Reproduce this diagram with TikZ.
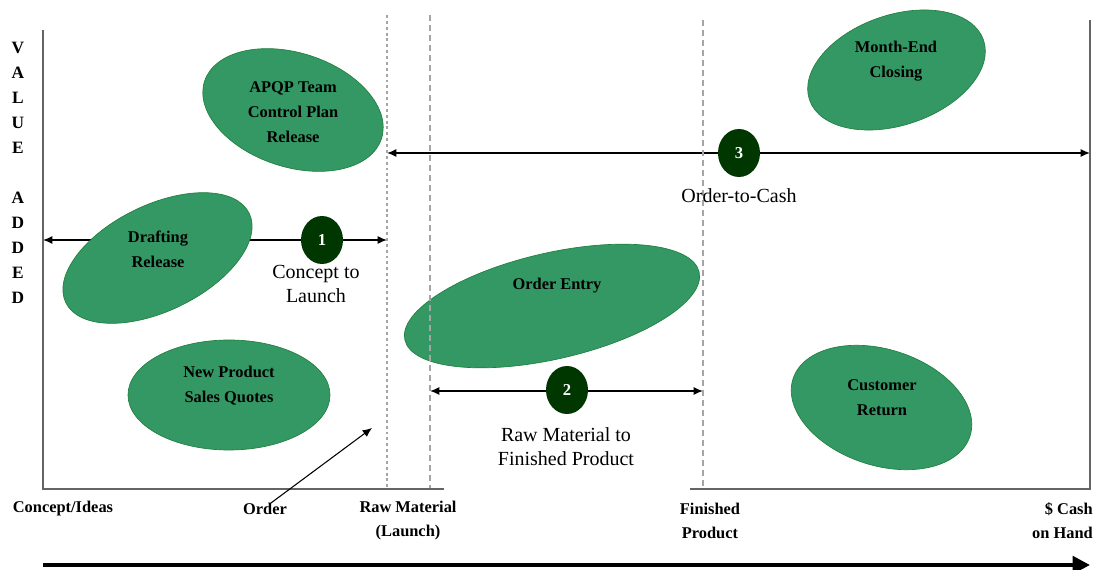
\documentclass[tikz,border=0pt]{standalone}
\usepackage{fontspec}
\setmainfont{Liberation Serif}
\usetikzlibrary{shapes.geometric,arrows.meta}
\definecolor{blobgreen}{RGB}{52,152,100}
\definecolor{blobedge}{RGB}{32,128,62}
\definecolor{stepdark}{RGB}{0,54,0}
\definecolor{axisgray}{RGB}{100,100,100}
\definecolor{guidegray}{RGB}{165,165,165}

\begin{document}
\begin{tikzpicture}[x=0.75pt,y=-0.75pt,
  blob/.style={ellipse, fill=blobgreen, draw=blobedge, line width=0.5pt, inner sep=0pt},
  blobtext/.style={font=\fontsize{12.3}{18.75}\selectfont\bfseries, align=center, inner sep=0pt},
  stepmark/.style={ellipse, fill=stepdark, minimum width=31.5pt, minimum height=36pt, inner sep=0pt,
    text=white, font=\fontsize{12.5}{14}\selectfont\bfseries},
  phasetext/.style={font=\fontsize{15}{18.5}\selectfont, align=center, inner sep=0pt},
  axislabel/.style={font=\fontsize{12.3}{18}\selectfont\bfseries, align=center, inner sep=0pt},
  spanarrow/.style={{Latex[length=7pt,width=6pt]}-{Latex[length=7pt,width=6pt]}, line width=1.1pt},
  axisline/.style={axisgray, line width=1.2pt},
  guide/.style={guidegray, line width=1.1pt, dash pattern=on 4.5pt off 3pt},
  fineguide/.style={guidegray, line width=1pt, dash pattern=on 2.2pt off 2.2pt},
]
\useasboundingbox (0,0) rectangle (1097,570);
\fill[white] (0,0) rectangle (1097,570);

% key points
\coordinate (ytop) at (43,30);
\coordinate (origin) at (43,489);
\coordinate (xleftend) at (444,489);
\coordinate (xrightstart) at (690,489);
\coordinate (corner) at (1090,489);
\coordinate (rtop) at (1090,20);
\coordinate (g1t) at (387,15);  \coordinate (g1b) at (387,489);
\coordinate (g2t) at (430,15);  \coordinate (g2b) at (430,489);
\coordinate (g3t) at (703,20);  \coordinate (g3b) at (703,489);
\coordinate (a1l) at (43,240);  \coordinate (a1r) at (387,240);
\coordinate (a2l) at (430,391); \coordinate (a2r) at (703,391);
\coordinate (a3l) at (387,153); \coordinate (a3r) at (1090,153);
\coordinate (timel) at (43,565); \coordinate (timer) at (1090,565);
\coordinate (ordertip) at (372,428);

% phase spans
\draw[spanarrow] (a1l) -- (a1r);
\draw[spanarrow] (a2l) -- (a2r);
\draw[spanarrow] (a3l) -- (a3r);

% activity ellipses
\node[blob, rotate=-18, minimum width=139.5pt, minimum height=85.5pt] (apqp) at (293,110) {};
\node[blob, rotate=26, minimum width=153pt, minimum height=79.5pt] (drafting) at (157.5,258) {};
\node[blob, minimum width=151.5pt, minimum height=82.5pt] (quotes) at (229,395) {};
\node[blob, rotate=13, minimum width=226.5pt, minimum height=79.5pt] (orderentry) at (552,306) {};
\node[blob, rotate=19, minimum width=138pt, minimum height=82.5pt] (monthend) at (896.5,70) {};
\node[blob, rotate=-18, minimum width=139.5pt, minimum height=87pt] (customer) at (881.5,407.5) {};

\node[blobtext] (apqptext) at (293,112) {APQP Team\\Control Plan\\Release};
\node[blobtext] (draftingtext) at (158,249.5) {Drafting\\Release};
\node[blobtext] (quotestext) at (229,385.5) {New Product\\Sales Quotes};
\node[blobtext] (orderentrytext) at (557,286) {Order Entry};
\node[blobtext] (monthendtext) at (896,61) {Month-End\\Closing};
\node[blobtext] (customertext) at (882,397.5) {Customer\\Return};

% milestone guides
\draw[fineguide] (g1t) -- (g1b);
\draw[guide] (g2t) -- (g2b);
\draw[guide] (g3t) -- (g3b);

% axes
\draw[axisline] (ytop) -- (origin) -- (xleftend);
\draw[axisline] (xrightstart) -- (corner) -- (rtop);

% numbered phases
\node[stepmark] (s1) at (322,240) {1};
\node[stepmark] (s2) at (567,390) {2};
\node[stepmark] (s3) at (739,153) {3};

\node[phasetext] (p1) at (316,284) {Concept to\\Launch};
\node[phasetext] (p2) at (566,446.5) {Raw Material to\\Finished Product};
\node[phasetext] (p3) at (739,196) {Order-to-Cash};

% vertical axis title
\node[font=\fontsize{13}{18.75}\selectfont\bfseries, align=center, inner sep=0pt, anchor=north] (vaxis)
  at (18,42) {V\\A\\L\\U\\E\\[18.75pt]A\\D\\D\\E\\D};

% horizontal axis milestones
\node[axislabel] (ideas) at (63,509) {Concept/Ideas};
\node[axislabel] (orderlbl) at (265,509) {Order};
\node[axislabel] (rawlbl) at (408,520.5) {Raw Material\\(Launch)};
\node[axislabel] (finlbl) at (710,520.5) {Finished\\Product};
\node[axislabel, align=right, anchor=east] (cashlbl) at (1093,520.5) {\$ Cash\\on Hand};

\draw[-{Latex[length=7pt,width=6pt]}, line width=0.8pt] ([xshift=4.5pt]orderlbl.north) -- (ordertip);

% time arrow
\draw[line width=3pt, -{Triangle[length=13pt,width=13pt]}] (timel) -- (timer);
\end{tikzpicture}
\end{document}
